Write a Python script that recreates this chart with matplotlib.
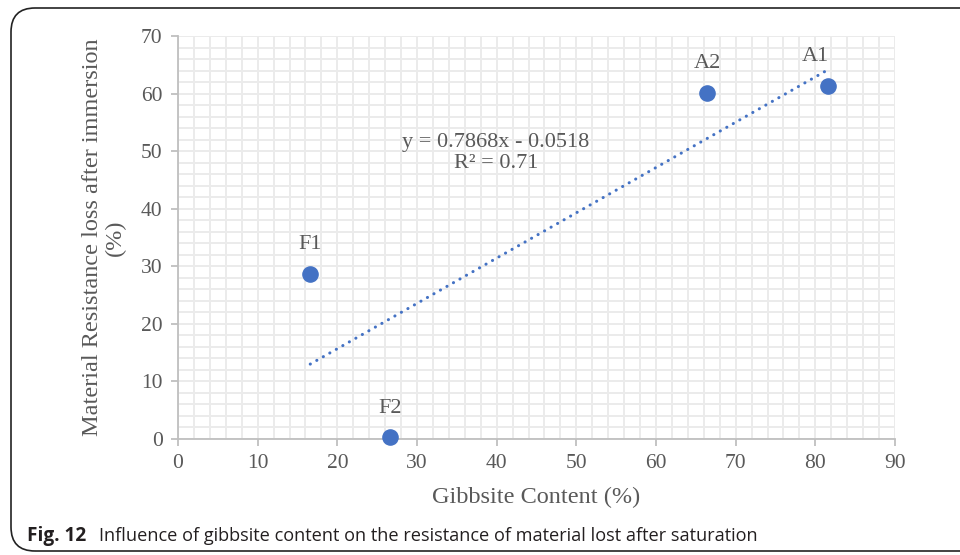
import matplotlib
matplotlib.use('Agg')
import matplotlib.pyplot as plt
from matplotlib.patches import FancyBboxPatch
from matplotlib.ticker import MultipleLocator
import numpy as np

# samples: gibbsite content vs resistance loss
names = ['F1', 'F2', 'A2', 'A1']
gibbsite = [16.6, 26.6, 66.4, 81.6]
loss = [28.7, 0.3, 60.1, 61.3]
label_offsets = [(0, 21), (0, 21), (0, 21), (-9, 21)]

# Excel linear trendline
slope = 0.7868
intercept = -0.0518
r2 = 0.71

blue = '#4472C4'
grey = '#595959'
serif = 'Liberation Serif'

fig = plt.figure(figsize=(9.6, 5.55), dpi=100)

# rounded frame around the figure
frame = FancyBboxPatch((11 / 960, 4 / 555), 1.2, 543 / 555,
                       boxstyle='round,pad=0,rounding_size=0.025',
                       transform=fig.transFigure, facecolor='none',
                       edgecolor='#222222', linewidth=1.2, mutation_aspect=960 / 555)
fig.patches.append(frame)

ax = fig.add_axes([178 / 960, 1 - 439 / 555, (895 - 178) / 960, (439 - 36) / 555])

ax.set_xlim(0, 90)
ax.set_ylim(0, 70)
ax.xaxis.set_major_locator(MultipleLocator(10))
ax.yaxis.set_major_locator(MultipleLocator(10))
ax.xaxis.set_minor_locator(MultipleLocator(2))
ax.yaxis.set_minor_locator(MultipleLocator(2))
ax.grid(True, which='both', color='#EBEBEB', linewidth=1.4, zorder=0)
ax.set_axisbelow(True)

for s in ['top', 'right']:
    ax.spines[s].set_visible(False)
for s in ['left', 'bottom']:
    ax.spines[s].set_color('#BFBFBF')
    ax.spines[s].set_linewidth(1.3)
ax.tick_params(which='major', direction='out', length=5, width=1.3, color='#BFBFBF',
               labelsize=15.5, labelcolor=grey, pad=6)
ax.tick_params(which='minor', length=0)
for lab in ax.get_xticklabels() + ax.get_yticklabels():
    lab.set_fontfamily(serif)

# trendline over the data range
tx = np.array([min(gibbsite), max(gibbsite)])
ax.plot(tx, slope * tx + intercept, linestyle=(0, (0.05, 2.4)), color=blue,
        linewidth=2.2, dash_capstyle='round', zorder=2)

ax.scatter(gibbsite, loss, s=120, color=blue, zorder=3, clip_on=False)

for n, x, y, off in zip(names, gibbsite, loss, label_offsets):
    ax.annotate(n, (x, y), xytext=off, textcoords='offset points', ha='center',
                va='center', fontsize=16, color=grey, family=serif)

ax.text(39.9, 49.7, 'y = 0.7868x - 0.0518\nR² = 0.71', ha='center', va='center',
        fontsize=16, color=grey, family=serif, linespacing=1.1)

ax.set_xlabel('Gibbsite Content (%)', fontsize=17.5, color=grey, family=serif, labelpad=10)
ax.set_ylabel('Material Resistance loss after immersion\n(%)', fontsize=17.5, color=grey,
              family=serif, labelpad=11, linespacing=1.12)

fig.text(27 / 960, 1 - 536 / 555, 'Fig. 12', fontsize=13.7, fontweight='bold',
         family='Open Sans', color='#231F20', va='center')
fig.text(99 / 960, 1 - 536 / 555, 'Influence of gibbsite content on the resistance of material lost after saturation',
         fontsize=13.1, family='Open Sans', color='#231F20', va='center')

fig.savefig('out.png', dpi=100)
